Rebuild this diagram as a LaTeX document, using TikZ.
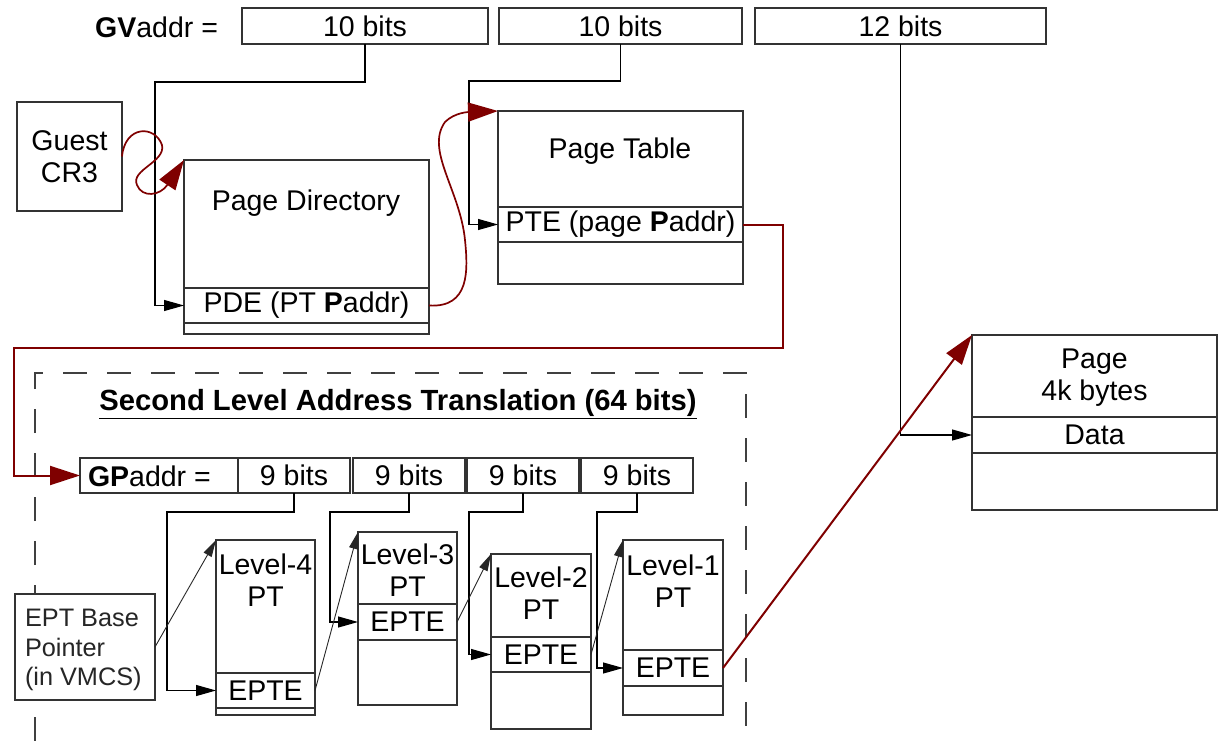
\documentclass[tikz,border=0pt]{standalone}
\usepackage{fontspec}
\setmainfont{Liberation Sans}
\usetikzlibrary{arrows.meta}
\definecolor{linec}{HTML}{333333}
\definecolor{redc}{HTML}{7F0000}
\newcommand\bigf{\fontsize{28.5}{32}\selectfont}
\newcommand\titlef{\fontsize{29.2}{33}\selectfont}
\newcommand\smallf{\fontsize{25.3}{29.5}\selectfont}
\begin{document}
\begin{tikzpicture}[x=1pt,y=-1pt,
  box/.style={draw=linec, fill=white, line width=1.3pt, inner sep=0pt, outer sep=0pt, anchor=north west, font=\bigf},
  lbl/.style={inner sep=0pt, outer sep=0pt, font=\bigf, align=center},
  conn/.style={draw=black, line width=1.2pt, -{Triangle[length=20pt,width=11pt]}},
  thin/.style={draw=black!85, line width=0.9pt, -{Triangle[length=17pt,width=9pt]}},
  redline/.style={draw=redc, line width=2pt, -{Triangle[length=30pt,width=19pt]}},
  redcurve/.style={draw=redc, line width=1.7pt, -{Triangle[length=30pt,width=19pt]}},
  frame/.style={draw=black!75, line width=1.3pt, dash pattern=on 24pt off 20pt}]
\useasboundingbox (0,0) rectangle (1219,741);

% GV address
\node[lbl, anchor=east] (gvt) at (218,27) {\textbf{GV}addr =};
\node[box, minimum width=246pt, minimum height=36pt] (gv1) at (242,8) {10 bits};
\node[box, minimum width=243pt, minimum height=36pt] (gv2) at (499,8) {10 bits};
\node[box, minimum width=291pt, minimum height=36pt] (gv3) at (755,8) {12 bits};

% Guest CR3
\node[box, minimum width=105pt, minimum height=109pt, align=center] (cr3) at (17,102) {Guest\\CR3};

% Page directory
\node[box, minimum width=245pt, minimum height=174pt] (pd) at (184,160) {};
\node[lbl] (pdt) at (306,203) {Page Directory};
\node[box, minimum width=245pt, minimum height=35pt] (pde) at (184,288) {PDE (PT \textbf{P}addr)};

% Page table
\node[box, minimum width=245pt, minimum height=173pt] (pt) at (498,111) {};
\node[lbl] (ptt) at (620,151) {Page Table};
\node[box, minimum width=245pt, minimum height=35pt] (pte) at (498,207) {PTE (page \textbf{P}addr)};

% Page
\node[box, minimum width=245pt, minimum height=175pt] (pg) at (972,335) {};
\node[lbl] (pgt) at (1094.5,378) {Page\\4k bytes};
\node[box, minimum width=245pt, minimum height=36pt] (dat) at (972,417) {Data};

% SLAT frame
\draw[frame] (35,741) -- (35,373) -- (746,373) -- (746,741);
\node[lbl, font=\titlef] (slt) at (398,404) {\textbf{\underline{Second Level Address Translation (64 bits)}}};

% GP address
\node[box, minimum width=158pt, minimum height=35pt] (gpa) at (80,458) {};
\node[lbl, anchor=west] (gpt) at (88,476) {\textbf{GP}addr =};
\node[box, minimum width=112pt, minimum height=35pt] (b1) at (238,458) {9 bits};
\node[box, minimum width=112pt, minimum height=35pt] (b2) at (353,458) {9 bits};
\node[box, minimum width=112pt, minimum height=35pt] (b3) at (467,458) {9 bits};
\node[box, minimum width=112pt, minimum height=35pt] (b4) at (581,458) {9 bits};

% EPT base pointer
\node[box, minimum width=140pt, minimum height=106pt] (ept) at (15,594) {};
\node[lbl, anchor=west, align=left, font=\smallf, text=black!85] (eptt) at (25,650) {EPT Base\\Pointer\\(in VMCS)};

% Level tables
\node[box, minimum width=99pt, minimum height=175pt] (l4) at (216,540) {};
\node[lbl] (l4t) at (265.5,580) {Level-4\\PT};
\node[box, minimum width=99pt, minimum height=35pt] (e4) at (216,673) {EPTE};

\node[box, minimum width=99pt, minimum height=173pt] (l3) at (358,532) {};
\node[lbl] (l3t) at (407.5,570) {Level-3\\PT};
\node[box, minimum width=99pt, minimum height=36pt] (e3) at (358,604) {EPTE};

\node[box, minimum width=100pt, minimum height=175pt] (l2) at (491,554) {};
\node[lbl] (l2t) at (541,593) {Level-2\\PT};
\node[box, minimum width=100pt, minimum height=35pt] (e2) at (491,637) {EPTE};

\node[box, minimum width=100pt, minimum height=175pt] (l1) at (623,540) {};
\node[lbl] (l1t) at (673,581) {Level-1\\PT};
\node[box, minimum width=100pt, minimum height=36pt] (e1) at (623,650) {EPTE};

% black index connectors
\draw[conn] (gv1.south) |- (155,82) |- (pde.west);
\draw[conn] (gv2.south) |- (469,81) |- (pte.west);
\draw[conn] (gv3.south) |- (dat.west);
\draw[conn] (b1.south) |- (167,512) |- (e4.west);
\draw[conn] (b2.south) |- (330,512) |- (e3.west);
\draw[conn] (b3.south) |- (469,512) |- (e2.west);
\draw[conn] (b4.south) |- (597,512) |- (e1.west);

% thin diagonal connectors
\draw[thin] (ept.east) -- (l4.north west);
\draw[thin] (e4.east) -- (l3.north west);
\draw[thin] (e3.east) -- (l2.north west);
\draw[thin] (e2.east) -- (l1.north west);

% red connectors
\draw[redcurve] (cr3.east) .. controls (125,125) and (155,125) .. (162,145)
  .. controls (166,162) and (130,170) .. (137,185)
  .. controls (142,198) and (160,196) .. (pd.north west);
\draw[redcurve] (pde.east) .. controls (470,308) and (468,270) .. (465,240)
  .. controls (460,190) and (425,150) .. (445,122)
  .. controls (455,112) and (470,112) .. (pt.north west);
\draw[redline] (pte.east) -- ++(40,0) |- (14,348) |- (gpa.west);
\draw[redline] (e1.east) -- (pg.north west);
\end{tikzpicture}
\end{document}
